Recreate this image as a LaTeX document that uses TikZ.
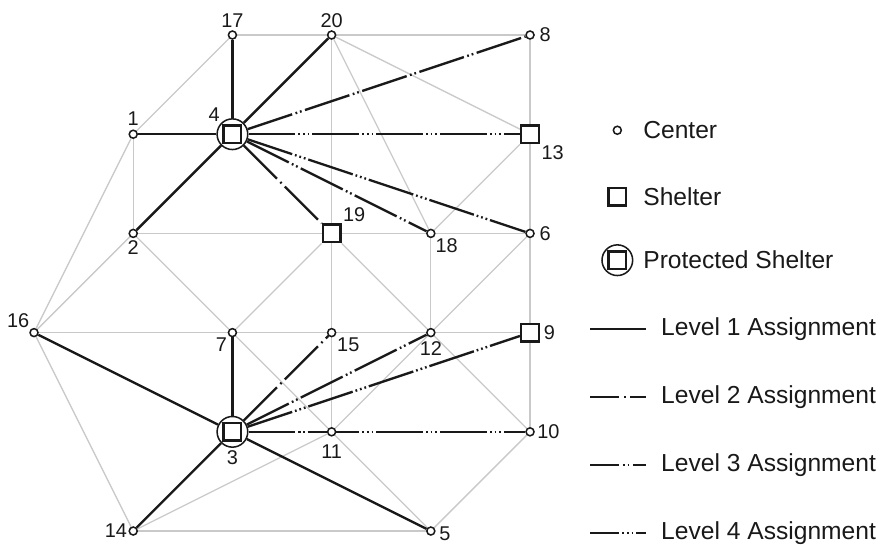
\documentclass[tikz,border=0pt]{standalone}
\usepackage{fontspec}
\setmainfont{Liberation Sans}
\usetikzlibrary{calc}
\pgfdeclarelayer{bg}
\pgfsetlayers{bg,main}
\definecolor{road}{gray}{0.79}
\definecolor{ink}{gray}{0.10}
\newcommand\numfont{\fontsize{17}{20}\selectfont}
\newcommand\keyfont{\fontsize{21}{25}\selectfont}
\tikzset{
  ctr/.style={circle,draw=ink,fill=white,line width=1.3pt,inner sep=0pt,minimum size=0.24cm},
  shelter/.style={rectangle,draw=ink,fill=white,line width=2.1pt,inner sep=0pt,minimum size=0.53cm},
  guard/.style={circle,draw=ink,fill=white,line width=1.3pt,inner sep=0pt,minimum size=0.92cm},
  every label/.style={font=\numfont,text=ink,inner sep=1pt},
  link/.style={draw=road,line width=1.1pt},
  lvline/.style={draw=ink,line width=2pt},
  lvone/.style={lvline},
  lvtwo/.style={lvline,dash pattern=on #1 off 4pt on 1.5pt off 4pt},
  lvtwo/.default=40pt,
  lvthree/.style={lvline,dash pattern=on #1 off 3pt on 1.5pt off 2.5pt on 1.5pt off 3pt},
  lvthree/.default=40pt,
  lvfour/.style={lvline,dash pattern=on #1 off 2.5pt on 1.5pt off 2.5pt on 1.5pt off 2.5pt on 1.5pt off 2.5pt},
  lvfour/.default=40pt,
  keytext/.style={font=\keyfont,text=ink,inner sep=0pt,anchor=west}
}

\begin{document}
\begin{tikzpicture}[x=2.976cm,y=-2.976cm]
\useasboundingbox (-0.343,-0.353) rectangle (8.538,5.131);
% centers
\node[ctr,label={[label distance=1pt]above:17}] (n17) at (2,0) {};
\node[ctr,label={[label distance=1pt]above:20}] (n20) at (3,0) {};
\node[ctr,label={[label distance=3pt]right:8}] (n8) at (5,0) {};
\node[ctr,label={[label distance=2pt]above:1}] (n1) at (1,1) {};
\node[ctr,label={[label distance=1pt]below:2}] (n2) at (1,2) {};
\node[ctr,label={below right:18}] (n18) at (4,2) {};
\node[ctr,label={[label distance=3pt]right:6}] (n6) at (5,2) {};
\node[ctr,label={above left:16}] (n16) at (0,3) {};
\node[ctr,label={[label distance=1pt]below left:7}] (n7) at (2,3) {};
\node[ctr,label={[label distance=1pt]below right:15}] (n15) at (3,3) {};
\node[ctr,label={[label distance=2pt]below:12}] (n12) at (4,3) {};
\node[ctr,label={[label distance=6pt]below:11}] (n11) at (3,4) {};
\node[ctr,label={[label distance=1pt]right:10}] (n10) at (5,4) {};
\node[ctr,label={left:14}] (n14) at (1,5) {};
\node[ctr,label={[label distance=2pt,yshift=-2pt]right:5}] (n5) at (4,5) {};
% shelters
\node[shelter,label={below right:13}] (n13) at (5,1) {};
\node[shelter,label={above right:19}] (n19) at (3,2) {};
\node[shelter,label={[label distance=2pt]right:9}] (n9) at (5,3) {};
% protected shelters
\node[guard,label={above left:4}] (n4) at (2,1) {};
\node[shelter] (n4box) at (n4) {};
\node[guard,label={[label distance=1pt]below:3}] (n3) at (2,4) {};
\node[shelter] (n3box) at (n3) {};

\begin{pgfonlayer}{bg}
\foreach \a/\b in {17/20,20/8,17/1,1/2,1/16,2/16,16/14,14/5,20/19,19/15,15/11,
  20/18,20/13,8/13,13/6,6/9,9/10,13/18,2/19,19/18,18/6,2/7,19/7,19/12,18/12,
  6/12,16/7,7/15,15/12,12/9,7/11,12/11,12/10,11/5,10/5,14/11}
  \draw[link] (n\a) -- (n\b);
\foreach \b in {17,20,1,2} \draw[lvone] (n4) -- (n\b);
\foreach \b in {16,7,14,5} \draw[lvone] (n3) -- (n\b);
\draw[lvtwo] (n4) -- (n19);
\draw[lvtwo] (n3) -- (n15);
\draw[lvthree] (n4) -- (n8);
\draw[lvthree] (n4) -- (n18);
\draw[lvthree] (n3) -- (n12);
\draw[lvthree] (n3) -- (n11);
\draw[lvfour] (n4) -- (n13);
\draw[lvfour] (n4) -- (n6);
\draw[lvfour] (n3) -- (n9);
\draw[lvfour] (n3) -- (n10);
\end{pgfonlayer}

% legend
\node[ctr] (kctr) at (5.88,0.96) {};
\node[keytext] (tctr) at (6.14,0.96) {Center};
\node[shelter] (kshel) at (5.88,1.63) {};
\node[keytext] (tshel) at (6.14,1.63) {Shelter};
\node[guard] (kprot) at (5.88,2.27) {};
\node[shelter] (kprotbox) at (kprot) {};
\node[keytext] (tprot) at (6.14,2.27) {Protected Shelter};
\foreach \i/\y in {1/2.964,2/3.649,3/4.335,4/5.02}{
  \coordinate (la\i) at (5.605,\y);
  \coordinate (lb\i) at (6.169,\y);
  \node[keytext] (tl\i) at (6.32,\y) {Level \i\ Assignment};
}
\draw[lvone] (la1) -- (lb1);
\draw[lvtwo=25pt] (la2) -- (lb2);
\draw[lvthree=25pt] (la3) -- (lb3);
\draw[lvfour=25pt] (la4) -- (lb4);
\end{tikzpicture}
\end{document}
